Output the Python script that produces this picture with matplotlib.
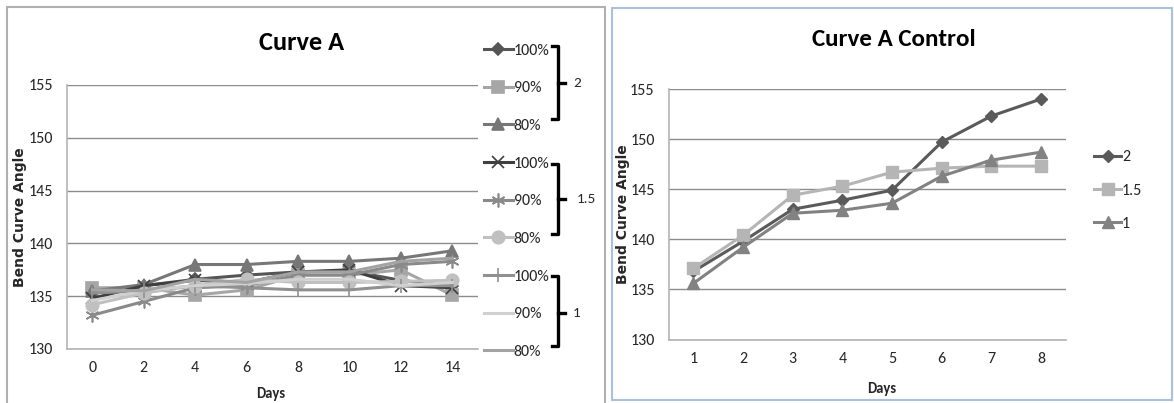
import numpy as np
import matplotlib
matplotlib.use('Agg')
import matplotlib.pyplot as plt
from matplotlib.lines import Line2D
from matplotlib.patches import Rectangle

# ---- Curve A: 9 treatment series (group 2 / 1.5 / 1, each at 100/90/80 %) ----
days_a = ['0', '2', '4', '6', '8', '10', '12', '14']
g2_100 = [135.3, 136.0, 136.6, 137.0, 137.3, 137.4, 136.5, 136.0]
g2_90 = [135.8, 135.8, 135.1, 135.6, 137.0, 137.0, 137.5, 135.1]
g2_80 = [135.5, 136.1, 138.0, 138.0, 138.3, 138.3, 138.6, 139.3]
g15_100 = [134.8, 136.0, 136.5, 136.3, 137.3, 137.5, 136.0, 135.8]
g15_90 = [133.2, 134.5, 135.8, 136.0, 137.0, 137.0, 138.0, 138.3]
g15_80 = [134.2, 135.3, 136.0, 136.6, 136.3, 136.3, 136.4, 136.5]
g1_100 = [135.3, 135.5, 136.0, 135.8, 135.6, 135.6, 136.0, 136.0]
g1_90 = [134.6, 135.5, 136.0, 136.2, 136.6, 136.6, 136.0, 136.3]
g1_80 = [135.6, 135.5, 136.6, 136.3, 137.3, 137.3, 138.3, 138.6]

# ---- Curve A Control ----
days_b = ['1', '2', '3', '4', '5', '6', '7', '8']
ctrl_2 = [136.8, 139.8, 143.0, 143.9, 144.9, 149.7, 152.3, 154.0]
ctrl_15 = [137.1, 140.4, 144.4, 145.3, 146.7, 147.1, 147.3, 147.3]
ctrl_1 = [135.6, 139.2, 142.6, 142.9, 143.6, 146.3, 147.9, 148.7]

W, H = 1174, 403
fig = plt.figure(figsize=(W / 100, H / 100), dpi=100)
fig.patch.set_facecolor('white')

FONT = ['Carlito', 'IBM Plex Sans Condensed', 'DejaVu Sans']
TXT = '#262626'
TICK_SIZE = 11.5


def px_axes(x0, y0, x1, y1):
    return fig.add_axes([x0 / W, 1 - y1 / H, (x1 - x0) / W, (y1 - y0) / H])


def style(ax, labels, ylab_x, xlab_x, xlab_y):
    ax.set_xlim(-0.5, len(labels) - 0.5)
    ax.set_ylim(130, 155)
    ax.set_yticks([130, 135, 140, 145, 150, 155])
    ax.set_xticks(range(len(labels)))
    ax.set_xticklabels(labels)
    ax.grid(axis='y', color='#8c8c8c', linewidth=1.0)
    ax.set_axisbelow(True)
    for s in ['top', 'right']:
        ax.spines[s].set_visible(False)
    for s in ['left', 'bottom']:
        ax.spines[s].set_color('#b4b4b4')
        ax.spines[s].set_linewidth(1.2)
    ax.tick_params(axis='y', length=0, labelsize=TICK_SIZE, labelcolor=TXT,
                   pad=10)
    ax.tick_params(axis='x', length=0, labelsize=TICK_SIZE, labelcolor=TXT,
                   pad=9)
    for t in ax.get_xticklabels() + ax.get_yticklabels():
        t.set_family(FONT)
    ax.set_xlabel('Days', fontsize=10.5, fontweight='bold', family=FONT,
                  color=TXT)
    ax.xaxis.set_label_coords(xlab_x, xlab_y)
    ax.set_ylabel('Bend Curve Angle', fontsize=10, fontweight='bold',
                  family='DejaVu Sans', color=TXT)
    ax.yaxis.set_label_coords(ylab_x, 0.5)


# panel frames
fig.add_artist(Rectangle((7 / W, -0.02), 598 / W, 1.0 - 7 / H + 0.02,
                         transform=fig.transFigure, fill=False,
                         edgecolor='#b0b0b0', linewidth=1.5))
fig.add_artist(Rectangle((612 / W, 1 - 400 / H), 560 / W, (400 - 8) / H,
                         transform=fig.transFigure, fill=False,
                         edgecolor='#a9c0de', linewidth=1.5))

lw = 2.2

# ---- left chart ----
ax1 = px_axes(66.7, 85, 478, 349)
x = np.arange(len(days_a))
series_a = [
    (g2_100, '#555555', 'D', 6, '100%'),
    (g2_90, '#a6a6a6', 's', 8, '90%'),
    (g2_80, '#777777', '^', 8, '80%'),
    (g15_100, '#3f3f3f', 'x', 9, '100%'),
    (g15_90, '#8a8a8a', (6, 2, 0), 10, '90%'),
    (g15_80, '#c0c0c0', 'o', 9, '80%'),
    (g1_100, '#909090', '|', 10, '100%'),
    (g1_90, '#d0d0d0', None, 0, '90%'),
    (g1_80, '#a3a3a3', None, 0, '80%'),
]
handles_a = []
for vals, col, mk, ms, lab in series_a:
    ln, = ax1.plot(x, vals, color=col, marker=mk, markersize=ms,
                   linewidth=lw, markeredgewidth=1.2, label=lab,
                   markerfacecolor=col, markeredgecolor=col)
    handles_a.append(ln)
style(ax1, days_a, -0.0965, 0.497, -0.145)
fig.text(302 / W, 1 - 42 / H, 'Curve A', fontsize=19, fontweight='bold',
         family=FONT, ha='center', va='center')

leg1 = fig.legend(handles=handles_a, loc='upper left',
                  bbox_to_anchor=(484 / W, 1 - 43.5 / H), frameon=False,
                  prop={'family': FONT, 'size': TICK_SIZE}, handlelength=1.8,
                  handletextpad=0.05, labelspacing=1.47, borderpad=0,
                  borderaxespad=0)
for t in leg1.get_texts():
    t.set_color(TXT)

# group brackets beside the legend
groups = [('2', 45.5, 119, 83, 573), ('1.5', 164, 234, 199, 577),
          ('1', 276, 346, 313, 573)]
for lab, top, bot, mid, tx in groups:
    fig.add_artist(Line2D([552 / W, 558 / W, 558 / W, 552 / W],
                          [1 - top / H, 1 - top / H, 1 - bot / H, 1 - bot / H],
                          transform=fig.transFigure, color='black',
                          linewidth=2.4, solid_joinstyle='round'))
    fig.add_artist(Line2D([558 / W, 565 / W], [1 - mid / H, 1 - mid / H],
                          transform=fig.transFigure, color='black',
                          linewidth=2.4))
    fig.text(tx / W, 1 - mid / H, lab, fontsize=11, family=FONT,
             color=TXT, va='center', ha='left')

# ---- right chart ----
ax2 = px_axes(668.6, 89, 1065.8, 339.5)
x = np.arange(len(days_b))
series_b = [
    (ctrl_2, '#5a5a5a', 'D', 6, '2'),
    (ctrl_15, '#b5b5b5', 's', 8, '1.5'),
    (ctrl_1, '#828282', '^', 8, '1'),
]
handles_b = []
for vals, col, mk, ms, lab in series_b:
    ln, = ax2.plot(x, vals, color=col, marker=mk, markersize=ms,
                   linewidth=lw, label=lab, markerfacecolor=col,
                   markeredgecolor=col)
    handles_b.append(ln)
style(ax2, days_b, -0.097, 0.537, -0.168)
fig.text(894 / W, 1 - 40 / H, 'Curve A Control', fontsize=18,
         fontweight='bold', family=FONT, ha='center', va='center')

leg2 = fig.legend(handles=handles_b, loc='upper left',
                  bbox_to_anchor=(1094 / W, 1 - 150 / H), frameon=False,
                  prop={'family': FONT, 'size': TICK_SIZE}, handlelength=1.7,
                  handletextpad=0.05, labelspacing=1.2, borderpad=0,
                  borderaxespad=0)
for t in leg2.get_texts():
    t.set_color(TXT)

fig.savefig('out.png', dpi=100, facecolor='white')
